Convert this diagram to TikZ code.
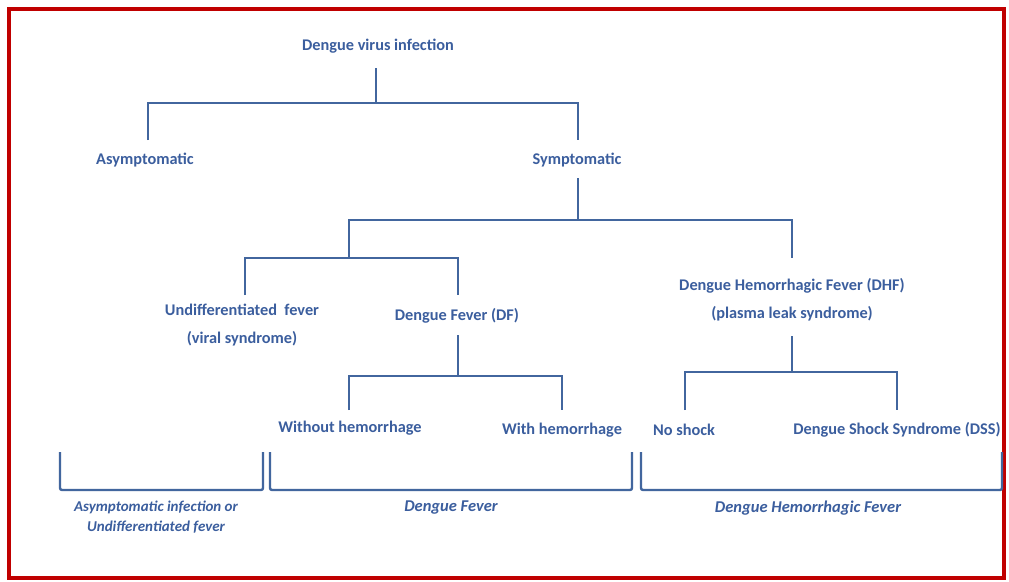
\documentclass[tikz,border=0pt]{standalone}
\usepackage{fontspec}
\setmainfont{Carlito}
\definecolor{txt}{HTML}{3B5E9E}
\definecolor{ln}{HTML}{42669E}
\definecolor{frame}{HTML}{C00000}
\begin{document}
\begin{tikzpicture}[x=1pt,y=-1pt,
  lbl/.style={text=txt,font=\bfseries\fontsize{16.3}{28}\selectfont,align=center,inner sep=1pt},
  ilbl/.style={text=txt,font=\bfseries\itshape\fontsize{16.5}{20}\selectfont,align=center,inner sep=1pt},
  conn/.style={draw=ln,line width=2.6pt},
  brk/.style={draw=ln,line width=2.4pt,rounded corners=2pt}]
\useasboundingbox (0,0) rectangle (1009,581);
\fill[white] (0,0) rectangle (1009,581);
\draw[frame,line width=3.5pt] (9,9) rectangle (1004,578);

\node[lbl] (root) at (378,46) {Dengue virus infection};
\node[lbl] (asym) at (145,160) {Asymptomatic};
\node[lbl] (sym) at (577,160) {Symptomatic};
\node[lbl] (uf) at (242,325) {Undifferentiated\ \ fever\\(viral syndrome)};
\node[lbl] (df) at (457,316) {Dengue Fever (DF)};
\node[lbl] (dhf) at (792,300) {Dengue Hemorrhagic Fever (DHF)\\(plasma leak syndrome)};
\node[lbl] (woh) at (350,428) {Without hemorrhage};
\node[lbl] (wh) at (562,430) {With hemorrhage};
\node[lbl] (ns) at (684,430) {No shock};
\node[lbl] (dss) at (897,430) {Dengue Shock Syndrome (DSS)};

\coordinate (j1) at (376,103);
\coordinate (j2) at (578,220);
\coordinate (j3) at (349,258);
\coordinate (j4) at (458,376);
\coordinate (j5) at (792,372);

\draw[conn] (376,68) -- (j1);
\draw[conn] (148,140) |- (j1) -| (578,140);
\draw[conn] (578,178) -- (j2);
\draw[conn] (349,258) |- (j2) -| (792,258);
\draw[conn] (245,295) |- (j3) -| (458,295);
\draw[conn] (458,335) -- (j4);
\draw[conn] (349,410) |- (j4) -| (562,410);
\draw[conn] (792,336) -- (j5);
\draw[conn] (685,410) |- (j5) -| (897,410);

\draw[brk] (60,452) -- (60,490) -- (263,490) -- (263,452);
\draw[brk] (270,452) -- (270,490) -- (632,490) -- (632,452);
\draw[brk] (641,452) -- (641,490) -- (1002,490) -- (1002,452);

\node[ilbl,font=\bfseries\itshape\fontsize{15}{20}\selectfont] (b1) at (156,517) {Asymptomatic infection or\\Undifferentiated fever};
\node[ilbl] (b2) at (451,508) {Dengue Fever};
\node[ilbl] (b3) at (808,508) {Dengue Hemorrhagic Fever};
\end{tikzpicture}
\end{document}
